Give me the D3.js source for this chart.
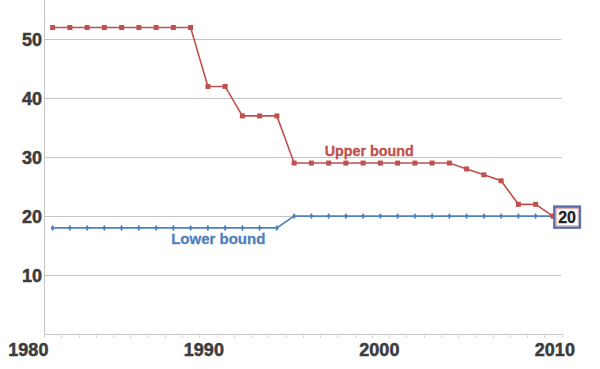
<!DOCTYPE html>
<html>
<head>
<meta charset="utf-8">
<script src="https://cdn.jsdelivr.net/npm/d3@7"></script>
<style>
  html, body { margin: 0; padding: 0; background: #fff; }
  svg { display: block; font-family: "Liberation Sans", Arial, sans-serif; }
</style>
</head>
<body>
<div id="chart"></div>
<script>
const years = d3.range(1981, 2011);
const upperBound = [52, 52, 52, 52, 52, 52, 52, 52, 52, 42, 42, 37, 37, 37, 29, 29, 29, 29, 29, 29, 29, 29, 29, 29, 28, 27, 26, 22, 22, 20];
const lowerBound = [18, 18, 18, 18, 18, 18, 18, 18, 18, 18, 18, 18, 18, 18, 20, 20, 20, 20, 20, 20, 20, 20, 20, 20, 20, 20, 20, 20, 20, 20];
const yTicks = [10, 20, 30, 40, 50];
const xTickLabels = [1980, 1990, 2000, 2010];
const endValue = 20;

const CONFIGS = {
  width: 600,
  height: 369,
  left: 44,
  right: 561.5,
  top: 0,
  bottom: 334,
  red: "#C0504D",
  blue: "#4F81BD",
  grid: "#c4c4c4",
  text: "#3c3c3c"
};

const svg = d3.select("#chart").append("svg")
  .attr("width", CONFIGS.width)
  .attr("height", CONFIGS.height);

// category axis: each year sits in the middle of its slot
const x = d3.scaleLinear().domain([1980.5, 2010.5]).range([CONFIGS.left, CONFIGS.right]);
const y = d3.scaleLinear().domain([0, 50]).range([CONFIGS.bottom, 39.3]);

// gridlines
svg.append("g")
  .selectAll("line")
  .data(yTicks)
  .join("line")
  .attr("x1", CONFIGS.left).attr("x2", CONFIGS.right)
  .attr("y1", d => Math.round(y(d)) + 0.5).attr("y2", d => Math.round(y(d)) + 0.5)
  .attr("stroke", CONFIGS.grid);

// axes lines
svg.append("line")
  .attr("x1", CONFIGS.left + 0.5).attr("x2", CONFIGS.left + 0.5)
  .attr("y1", CONFIGS.top).attr("y2", CONFIGS.bottom + 0.5)
  .attr("stroke", CONFIGS.grid);
svg.append("line")
  .attr("x1", CONFIGS.left).attr("x2", CONFIGS.right)
  .attr("y1", CONFIGS.bottom + 0.5).attr("y2", CONFIGS.bottom + 0.5)
  .attr("stroke", CONFIGS.grid);

// small ticks on slot boundaries
svg.append("g")
  .selectAll("line")
  .data(d3.range(1980.5, 2011, 1))
  .join("line")
  .attr("x1", d => Math.round(x(d)) + 0.5).attr("x2", d => Math.round(x(d)) + 0.5)
  .attr("y1", CONFIGS.bottom).attr("y2", CONFIGS.bottom + 4)
  .attr("stroke", "#d4d4d4");

// y labels
svg.append("g")
  .selectAll("text")
  .data(yTicks)
  .join("text")
  .attr("x", 42)
  .attr("y", d => y(d) + 6.5)
  .attr("text-anchor", "end")
  .attr("font-size", 18)
  .attr("font-weight", "bold")
  .attr("fill", CONFIGS.text)
  .attr("stroke", CONFIGS.text)
  .attr("stroke-width", 0.5)
  .text(d => d);

// x labels
svg.append("g")
  .selectAll("text")
  .data(xTickLabels)
  .join("text")
  .attr("x", d => x(d) - 1 + (d - 2000) * 0.3)
  .attr("y", 356)
  .attr("text-anchor", "middle")
  .attr("font-size", 18)
  .attr("font-weight", "bold")
  .attr("fill", CONFIGS.text)
  .attr("stroke", CONFIGS.text)
  .attr("stroke-width", 0.5)
  .text(d => d);

const line = d3.line()
  .x((d, i) => x(years[i]))
  .y(d => y(d));

// lower bound
svg.append("path")
  .datum(lowerBound)
  .attr("d", line)
  .attr("fill", "none")
  .attr("stroke", CONFIGS.blue)
  .attr("stroke-width", 1.6);
svg.append("g")
  .selectAll("path")
  .data(lowerBound)
  .join("path")
  .attr("transform", (d, i) => `translate(${x(years[i])},${y(d)})`)
  .attr("d", d3.symbol(d3.symbolDiamond, 12))
  .attr("fill", CONFIGS.blue);

// upper bound
svg.append("path")
  .datum(upperBound)
  .attr("d", line)
  .attr("fill", "none")
  .attr("stroke", CONFIGS.red)
  .attr("stroke-width", 1.6);
svg.append("g")
  .selectAll("rect")
  .data(upperBound)
  .join("rect")
  .attr("x", (d, i) => x(years[i]) - 2.5)
  .attr("y", d => y(d) - 2.5)
  .attr("width", 5)
  .attr("height", 5)
  .attr("fill", CONFIGS.red);

// series labels
svg.append("text")
  .attr("x", x(1999.35))
  .attr("y", y(30.2))
  .attr("text-anchor", "middle")
  .attr("font-size", 14.3)
  .attr("font-weight", "bold")
  .attr("fill", CONFIGS.red)
  .attr("stroke", CONFIGS.red)
  .attr("stroke-width", 0.3)
  .text("Upper bound");
svg.append("text")
  .attr("x", x(1990.6))
  .attr("y", y(15.35))
  .attr("text-anchor", "middle")
  .attr("font-size", 15)
  .attr("font-weight", "bold")
  .attr("fill", CONFIGS.blue)
  .attr("stroke", CONFIGS.blue)
  .attr("stroke-width", 0.3)
  .text("Lower bound");

// end value box
const bx = x(2010) + 1.5, by = y(endValue) + 1;
const box = svg.append("g").attr("transform", `translate(${bx},${by})`);
box.append("rect")
  .attr("x", 0).attr("y", -10.5)
  .attr("width", 25.5).attr("height", 21)
  .attr("fill", "#fff")
  .attr("stroke", "#5a6fa8")
  .attr("stroke-width", 2.5);
box.append("rect")
  .attr("x", 1.8).attr("y", -8.7)
  .attr("width", 21.9).attr("height", 17.4)
  .attr("fill", "none")
  .attr("stroke", "#d99")
  .attr("stroke-width", 0.8);
box.append("text")
  .attr("x", 12.75).attr("y", 6)
  .attr("text-anchor", "middle")
  .attr("font-size", 16)
  .attr("font-weight", "bold")
  .attr("fill", "#222")
  .attr("stroke", "#222")
  .attr("stroke-width", 0.3)
  .text(endValue);
</script>
</body>
</html>
